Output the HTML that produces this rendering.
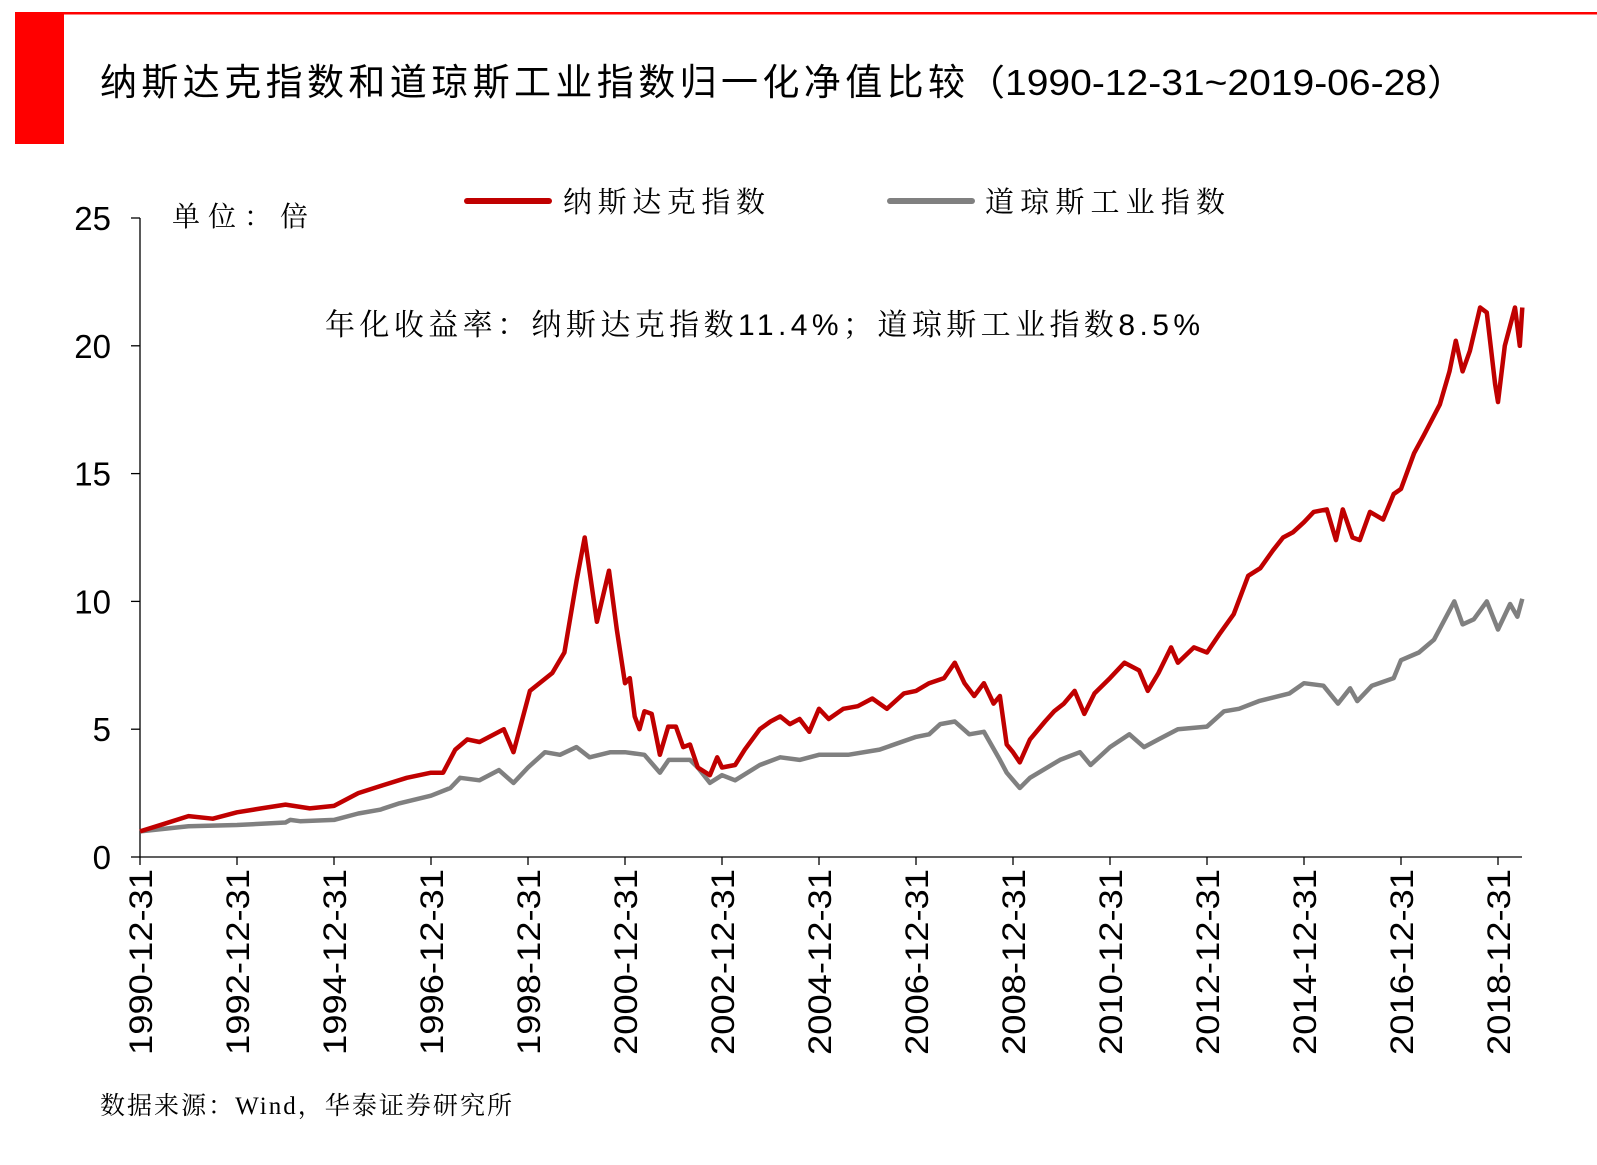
<!DOCTYPE html>
<html><head><meta charset="utf-8"><style>
body{margin:0;background:#fff;width:1597px;height:1160px;overflow:hidden;font-family:"Liberation Sans","Noto Sans CJK SC",sans-serif}
</style></head><body>
<svg id="chart" width="1597" height="1160" xmlns="http://www.w3.org/2000/svg">
<rect x="15" y="14" width="49" height="130" fill="#ff0000"/>
<rect x="15" y="12" width="1582" height="2.5" fill="#ff0000"/>
<text x="100" y="95" font-size="37" textLength="865" lengthAdjust="spacing" font-family="Liberation Sans,Noto Sans CJK SC,sans-serif" fill="#000">纳斯达克指数和道琼斯工业指数归一化净值比较</text>
<text x="966" y="95" font-size="36" textLength="500" lengthAdjust="spacingAndGlyphs" font-family="Liberation Sans,Noto Sans CJK SC,sans-serif" fill="#000">（1990-12-31~2019-06-28）</text>
<text x="172" y="226" font-size="28" textLength="136" lengthAdjust="spacing" font-family="Liberation Serif,Noto Serif CJK SC,serif">单位：倍</text>
<line x1="467" y1="201" x2="549" y2="201" stroke="#c00000" stroke-width="6" stroke-linecap="round"/>
<text x="563" y="212" font-size="29" textLength="202" lengthAdjust="spacing" font-family="Liberation Serif,Noto Serif CJK SC,serif">纳斯达克指数</text>
<line x1="890" y1="201" x2="972" y2="201" stroke="#808080" stroke-width="6" stroke-linecap="round"/>
<text x="985" y="212" font-size="29" textLength="240" lengthAdjust="spacing" font-family="Liberation Serif,Noto Serif CJK SC,serif">道琼斯工业指数</text>
<text x="325" y="335" font-size="30" textLength="875" lengthAdjust="spacing" font-family="Liberation Serif,Noto Serif CJK SC,serif">年化收益率：纳斯达克指数<tspan font-family="Liberation Sans,sans-serif">11.4%</tspan>；道琼斯工业指数<tspan font-family="Liberation Sans,sans-serif">8.5%</tspan></text>
<g id="axes"></g>
<g id="series"></g>
<text x="100" y="1114" font-size="25" textLength="412" lengthAdjust="spacing" font-family="Liberation Serif,Noto Serif CJK SC,serif">数据来源：Wind，华泰证券研究所</text>
</svg>
<script>
const yTicks=[0,5,10,15,20,25];
const xTickLabels=["1990-12-31","1992-12-31","1994-12-31","1996-12-31","1998-12-31","2000-12-31","2002-12-31","2004-12-31","2006-12-31","2008-12-31","2010-12-31","2012-12-31","2014-12-31","2016-12-31","2018-12-31"];
const xTickYears=[1991,1993,1995,1997,1999,2001,2003,2005,2007,2009,2011,2013,2015,2017,2019];
const nasdaqDates=[1991.0,1991.5,1992.0,1992.5,1993.0,1993.5,1994.0,1994.5,1995.0,1995.5,1996.0,1996.5,1997.0,1997.25,1997.5,1997.75,1998.0,1998.5,1998.7,1999.04,1999.5,1999.75,2000.0,2000.17,2000.42,2000.67,2000.83,2001.0,2001.1,2001.2,2001.3,2001.4,2001.55,2001.72,2001.89,2002.05,2002.2,2002.34,2002.5,2002.75,2002.9,2003.0,2003.27,2003.47,2003.78,2004.0,2004.2,2004.4,2004.6,2004.8,2005.0,2005.2,2005.5,2005.8,2006.1,2006.4,2006.75,2007.0,2007.27,2007.58,2007.8,2008.0,2008.2,2008.4,2008.6,2008.73,2008.87,2009.0,2009.14,2009.35,2009.66,2009.85,2010.05,2010.27,2010.47,2010.68,2011.0,2011.3,2011.6,2011.78,2012.0,2012.26,2012.4,2012.73,2013.0,2013.25,2013.55,2013.85,2014.1,2014.36,2014.57,2014.77,2015.0,2015.2,2015.47,2015.66,2015.8,2016.0,2016.15,2016.36,2016.63,2016.85,2017.0,2017.27,2017.47,2017.8,2018.0,2018.13,2018.27,2018.42,2018.63,2018.77,2018.94,2019.0,2019.14,2019.35,2019.45,2019.5];
const nasdaqValues=[1.0,1.3,1.6,1.5,1.75,1.9,2.05,1.9,2.0,2.5,2.8,3.1,3.3,3.3,4.2,4.6,4.5,5.0,4.1,6.5,7.2,8.0,10.8,12.5,9.2,11.2,8.9,6.8,7.0,5.5,5.0,5.7,5.6,4.0,5.1,5.1,4.3,4.4,3.5,3.2,3.9,3.5,3.6,4.2,5.0,5.3,5.5,5.2,5.4,4.9,5.8,5.4,5.8,5.9,6.2,5.8,6.4,6.5,6.8,7.0,7.6,6.8,6.3,6.8,6.0,6.3,4.4,4.1,3.7,4.6,5.3,5.7,6.0,6.5,5.6,6.4,7.0,7.6,7.3,6.5,7.2,8.2,7.6,8.2,8.0,8.7,9.5,11.0,11.3,12.0,12.5,12.7,13.1,13.5,13.6,12.4,13.6,12.5,12.4,13.5,13.2,14.2,14.4,15.8,16.5,17.7,19.0,20.2,19.0,19.8,21.5,21.3,18.5,17.8,20.0,21.5,20.0,21.5];
const dowDates=[1991,1992,1993,1994,1994.1,1994.3,1995,1995.5,1995.95,1996.35,1997.0,1997.4,1997.6,1998.0,1998.4,1998.7,1999.0,1999.35,1999.66,2000.0,2000.27,2000.7,2001.0,2001.4,2001.72,2001.9,2002.34,2002.5,2002.75,2003.0,2003.27,2003.78,2004.2,2004.6,2005.0,2005.6,2006.25,2007.0,2007.27,2007.5,2007.8,2008.1,2008.4,2008.73,2008.87,2009.14,2009.35,2009.97,2010.38,2010.6,2011.0,2011.4,2011.7,2012.0,2012.4,2013.0,2013.35,2013.66,2014.07,2014.7,2015.0,2015.4,2015.7,2015.95,2016.1,2016.4,2016.85,2017.0,2017.37,2017.68,2018.1,2018.27,2018.5,2018.77,2019.0,2019.25,2019.4,2019.5];
const dowValues=[1.0,1.2,1.25,1.35,1.45,1.4,1.45,1.7,1.85,2.1,2.4,2.7,3.1,3.0,3.4,2.9,3.5,4.1,4.0,4.3,3.9,4.1,4.1,4.0,3.3,3.8,3.8,3.5,2.9,3.2,3.0,3.6,3.9,3.8,4.0,4.0,4.2,4.7,4.8,5.2,5.3,4.8,4.9,3.8,3.3,2.7,3.1,3.8,4.1,3.6,4.3,4.8,4.3,4.6,5.0,5.1,5.7,5.8,6.1,6.4,6.8,6.7,6.0,6.6,6.1,6.7,7.0,7.7,8.0,8.5,10.0,9.1,9.3,10.0,8.9,9.9,9.4,10.1];

const NS='http://www.w3.org/2000/svg';
const X0=140,Y0=857,PXY=48.5,PXV=25.56,XEND=1522;
function xs(t){return X0+(t-1991)*PXY;}
function ys(v){return Y0-v*PXV;}
function mk(tag,attrs,parent){const e=document.createElementNS(NS,tag);for(const k in attrs)e.setAttribute(k,attrs[k]);parent.appendChild(e);return e;}
const axes=document.getElementById('axes');
let yAxis=mk('line',{x1:X0,y1:ys(25),x2:X0,y2:Y0,stroke:'#000','stroke-width':1.3},axes);


let xAxis=mk('line',{x1:X0,y1:Y0,x2:XEND,y2:Y0,stroke:'#000','stroke-width':1.3},axes);


yTicks.forEach(v=>{
  const t=mk('line',{x1:X0-9,y1:ys(v),x2:X0,y2:ys(v),stroke:'#000','stroke-width':1.3},axes);
  
  
  const l=mk('text',{x:111,y:ys(v)+12,'font-size':33,'text-anchor':'end','font-family':'Liberation Sans,sans-serif'},axes);
  
  
  l.textContent=v;
});
xTickYears.forEach((yr,i)=>{
  const x=xs(yr);
  const t=mk('line',{x1:x,y1:Y0,x2:x,y2:Y0+8,stroke:'#000','stroke-width':1.3},axes);
  
  
  const l=mk('text',{x:0,y:0,'font-size':32,'text-anchor':'end',textLength:186,lengthAdjust:'spacingAndGlyphs','font-family':'Liberation Sans,sans-serif',transform:`translate(${x+12},${Y0+12}) rotate(-90)`},axes);
  
  
  l.textContent=xTickLabels[i];
});
const series=document.getElementById('series');
function line(d,v,color,name){
  const pts=d.map((t,i)=>xs(t).toFixed(1)+','+ys(v[i]).toFixed(1)).join(' ');
  const p=mk('polyline',{points:pts,fill:'none',stroke:color,'stroke-width':4.5,'stroke-linejoin':'round'},series);
  
  
}
line(dowDates,dowValues,'#808080','dow-jones-line');
line(nasdaqDates,nasdaqValues,'#c00000','nasdaq-line');
</script>
</body></html>
